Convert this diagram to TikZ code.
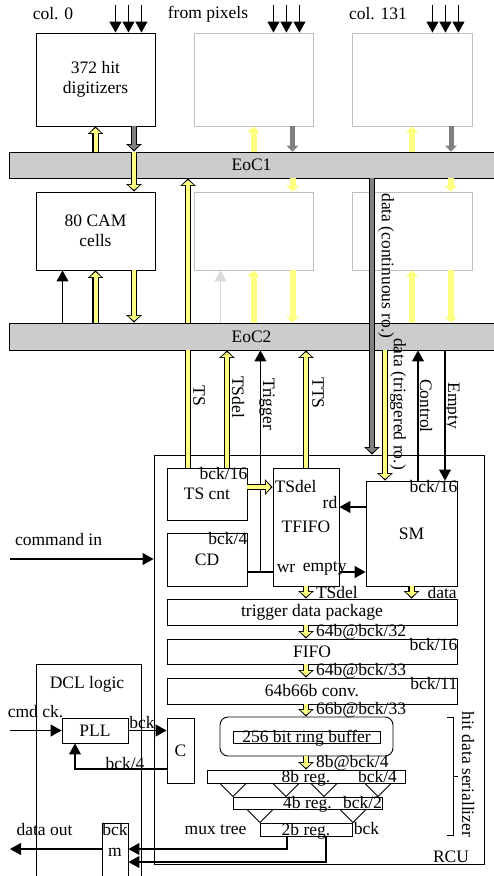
\documentclass[tikz,border=0pt]{standalone}
\usepackage{fontspec}
\setmainfont{Liberation Serif}
\usetikzlibrary{arrows.meta}
\definecolor{hitylw}{HTML}{FFFF80}
\definecolor{busgray}{HTML}{CCCCCC}
\definecolor{datagray}{HTML}{808080}
\definecolor{ghostline}{HTML}{C0C0C0}
\definecolor{ghostsig}{HTML}{D9D9D9}
\newcommand{\lblfont}{\fontsize{17.5}{20}\selectfont}
\tikzset{
  blk/.style={draw, line width=0.9pt, inner sep=0pt, align=center},
  ghost/.style={blk, draw=ghostline},
  bus/.style={draw, fill=busgray, line width=0.9pt, inner sep=0pt},
  reg/.style={blk, text height=11pt, text depth=0pt},
  lbl/.style={inner sep=0pt},
  vlbl/.style={inner sep=0pt, rotate=-90},
  clk/.style={inner sep=0pt, anchor=north east},
  tag/.style={inner sep=0pt, anchor=west},
  wire/.style={line width=1.1pt},
  sig/.style={line width=1.1pt, -{Triangle[length=11pt,width=12pt]}},
  ghostarr/.style={sig, draw=ghostsig},
  ybus/.style={draw=hitylw, line width=4pt, shorten >=1.7pt,
    -{Triangle[length=5pt,width=11.5pt,line width=0pt]},
    preaction={draw=black, line width=6.5pt, shorten >=0pt,
      -{Triangle[length=7.5pt,width=15.5pt,line width=0pt]}}},
  gbus/.style={ybus, draw=datagray},
  yline/.style={draw=hitylw, line width=4pt,
    preaction={draw=black, line width=6.5pt}},
  yfaint/.style={draw=hitylw, line width=6pt,
    -{Triangle[length=6pt,width=13pt,line width=0pt]}},
  gfaint/.style={draw=datagray, line width=5pt,
    -{Triangle[length=6pt,width=12pt,line width=0pt]}},
}

\begin{document}
\begin{tikzpicture}[x=1pt, y=-1pt, font=\lblfont]
  \useasboundingbox (0,0) rectangle (493,876);

  % pixel columns
  \node[lbl] (col0) at (53,14) {col. 0};
  \node[lbl] (frompix) at (208,14) {from pixels};
  \node[lbl] (col131) at (378,14) {col. 131};

  \node[blk, minimum width=119pt, minimum height=93pt] (dig) at (95.5,79.5) {372 hit\\digitizers};
  \node[ghost, minimum width=119pt, minimum height=93pt] (dig2) at (253.5,79.5) {};
  \node[ghost, minimum width=120pt, minimum height=93pt] (dig3) at (412,79.5) {};
  \node[blk, minimum width=119pt, minimum height=78pt] (cam) at (95.5,231) {80 CAM\\cells};
  \node[ghost, minimum width=119pt, minimum height=78pt] (cam2) at (253.5,231) {};
  \node[ghost, minimum width=120pt, minimum height=78pt] (cam3) at (412,231) {};

  \foreach \n in {dig,dig2,dig3}
    \foreach \d in {14,27,40}
      \draw[sig] ([xshift=-\d, yshift=28pt]\n.north east) -- ([xshift=-\d]\n.north east);

  % end of column buses
  \node[bus, minimum width=485pt, minimum height=26pt] (eoc1) at (251.5,165) {EoC1};
  \node[bus, minimum width=485pt, minimum height=27pt] (eoc2) at (251.5,336.5) {EoC2};

  \draw[ybus] (eoc1.north -| dig.south) -- (dig.south);
  \draw[gbus] ([xshift=38.5pt]dig.south) -- ([xshift=38.5pt]dig.south |- eoc1.north);
  \draw[ybus] ([xshift=38.5pt]dig.south |- eoc1.north) -- ([xshift=38.5pt]cam.north);
  \draw[sig] ([xshift=-33pt]cam.south |- eoc2.north) -- ([xshift=-33pt]cam.south);
  \draw[ybus] (eoc2.north -| cam.south) -- (cam.south);
  \draw[ybus] ([xshift=38.5pt]cam.south) -- ([xshift=38.5pt]cam.south |- eoc2.north);

  \foreach \n/\m in {dig2/cam2, dig3/cam3} {
    \draw[yfaint] (eoc1.north -| \n.south) -- (\n.south);
    \draw[gfaint] ([xshift=39pt]\n.south) -- ([xshift=39pt]\n.south |- eoc1.north);
    \draw[yfaint] ([xshift=39pt]\n.south |- eoc1.south) -- ([xshift=39pt]\m.north);
    \draw[yfaint] (eoc2.north -| \m.south) -- (\m.south);
    \draw[yfaint] ([xshift=39pt]\m.south) -- ([xshift=39pt]\m.south |- eoc2.north);
  }
  \draw[ghostarr] ([xshift=-33pt]cam2.south |- eoc2.north) -- ([xshift=-33pt]cam2.south);

  % readout control unit
  \node[blk, minimum width=330pt, minimum height=409pt] (rcu) at (319,659.5) {};
  \node[lbl] (rculbl) at (451,857) {RCU};

  \node[blk, minimum width=80pt, minimum height=52pt] (tscnt) at (207,494) {TS cnt};
  \node[clk] (tsclk) at (tscnt.north east) {bck/16};
  \node[blk, minimum width=80pt, minimum height=53pt] (cd) at (207,559.5) {CD};
  \node[clk] (cdclk) at (cd.north east) {bck/4};
  \node[blk, minimum width=66pt, minimum height=118pt] (tfifo) at (306,527) {TFIFO};
  \node[tag] (tftsdel) at ([xshift=2pt, yshift=-19pt]tfifo.north west) {TSdel};
  \node[inner sep=0pt, anchor=east] (tfrd) at ([xshift=-2pt, yshift=24pt]tfifo.east) {rd};
  \node[tag] (tfwr) at ([xshift=4pt, yshift=-41pt]tfifo.west) {wr};
  \node[tag] (tfempty) at ([xshift=30pt, yshift=-41pt]tfifo.west) {empty};
  \node[blk, minimum width=91pt, minimum height=105pt] (sm) at (411.5,533.5) {SM};
  \node[clk] (smclk) at (sm.north east) {bck/16};

  \draw[yline] ([xshift=-19pt]tscnt.north) -- ([xshift=-19pt]tscnt.north |- eoc2.south);
  \draw[ybus] ([xshift=-19pt]tscnt.north |- eoc2.north) -- ([xshift=-19pt]tscnt.north |- eoc1.south);
  \draw[ybus] ([xshift=20pt]tscnt.north) -- ([xshift=20pt]tscnt.north |- eoc2.south);
  \draw[ybus] (tfifo.north) -- (tfifo.north |- eoc2.south);
  \draw[gbus] ([xshift=53pt]rcu.north |- eoc1.south) -- ([xshift=53pt]rcu.north);
  \draw[ybus] ([xshift=-26.5pt]sm.north |- eoc2.south) -- ([xshift=-26.5pt]sm.north);
  \draw[sig] ([xshift=6.5pt]sm.north) -- ([xshift=6.5pt]sm.north |- eoc2.south);
  \draw[sig] ([xshift=33.5pt]sm.north |- eoc2.south) -- ([xshift=33.5pt]sm.north);

  \coordinate (trg) at ([yshift=-12.5pt]cd.east);
  \draw[wire] (trg) -- (trg -| tfifo.west);
  \draw[sig] ([xshift=13pt]trg) -- ([xshift=13pt]trg |- eoc2.south);

  \node[vlbl] (tslbl) at (199,396) {TS};
  \node[vlbl] (tsdellbl) at (238,397) {TSdel};
  \node[vlbl] (trglbl) at (267,404) {Trigger};
  \node[vlbl] (ttslbl) at (318,393) {TTS};
  \node[vlbl] (contlbl) at (386,266) {data (continuous ro.)};
  \node[vlbl] (trigrolbl) at (398,404) {data (triggered ro.)};
  \node[vlbl] (ctrllbl) at (426,406) {Control};
  \node[vlbl] (emptylbl) at (452,406) {Empty};

  \draw[ybus] ([yshift=7pt]tscnt.east) -- ([yshift=7pt]tscnt.east -| tfifo.west);
  \draw[sig] ([yshift=26.5pt]sm.west) -- ([yshift=26.5pt]sm.west -| tfifo.east);
  \draw[sig] ([yshift=-38.5pt]sm.west -| tfifo.east) -- ([yshift=-38.5pt]sm.west);

  \coordinate (cmdin) at (10,559);
  \draw[sig] (cmdin) -- (cmdin -| rcu.west);
  \node[lbl] (cmdinlbl) at (58.5,540) {command in};

  % hit data path
  \node[blk, minimum width=290pt, minimum height=26pt] (tdp) at (312,612) {trigger data package};
  \node[blk, minimum width=290pt, minimum height=25pt] (fifo) at (312,651.5) {FIFO};
  \node[clk] (fifoclk) at (fifo.north east) {bck/16};
  \node[blk, minimum width=290pt, minimum height=26pt] (conv) at (312,691) {64b66b conv.};
  \node[clk] (convclk) at (conv.north east) {bck/11};
  \node[blk, rounded corners=8pt, minimum width=173pt, minimum height=39pt] (ring) at (306.5,736.5) {};
  \node[reg, minimum width=147pt, minimum height=12pt] (ringbuf) at (306.5,737) {256 bit ring buffer};
  \node[reg, minimum width=198pt, minimum height=13pt] (r8) at (306,776.5) {8b reg.};
  \node[lbl] (r8clk) at (377.5,777) {bck/4};
  \node[reg, minimum width=149pt, minimum height=12pt] (r4) at (307.5,803) {4b reg.};
  \node[lbl] (r4clk) at (362.5,803) {bck/2};
  \node[reg, minimum width=92pt, minimum height=13pt] (r2) at (306,829.5) {2b reg.};
  \node[lbl] (r2clk) at (366.5,829) {bck};
  \node[lbl] (muxlbl) at (215.5,830) {mux tree};

  \draw[ybus] (tfifo.south) -- (tfifo.south |- tdp.north)
    node[tag, midway, xshift=8pt] (lbltsdel) {TSdel};
  \draw[ybus] (sm.south) -- (sm.south |- tdp.north)
    node[tag, midway, xshift=14pt] (lbldata) {data};
  \draw[ybus] (tfifo.south |- tdp.south) -- (tfifo.south |- fifo.north)
    node[tag, midway, xshift=8pt] (lblw32) {64b@bck/32};
  \draw[ybus] (tfifo.south |- fifo.south) -- (tfifo.south |- conv.north)
    node[tag, midway, xshift=8pt] (lblw33) {64b@bck/33};
  \draw[ybus] (tfifo.south |- conv.south) -- (tfifo.south |- ring.north)
    node[tag, midway, xshift=8pt] (lblx33) {66b@bck/33};
  \draw[ybus] (tfifo.south |- ring.south) -- (tfifo.south |- r8.north)
    node[tag, midway, xshift=8pt] (lblb4) {8b@bck/4};

  \foreach \x in {233,286,324,378}
    \draw[line width=0.9pt] (\x-13,0 |- r8.south) -- (\x,0 |- r4.north) -- (\x+13,0 |- r8.south);
  \foreach \x in {260,353}
    \draw[line width=0.9pt] (\x-13,0 |- r4.south) -- (\x,0 |- r2.north) -- (\x+13,0 |- r4.south);

  \draw[line width=0.9pt] (447,717) -- (453,717) -- (453,835) -- (447,835);
  \draw[line width=0.9pt] (453,776) -- (458,776);
  \node[vlbl] (hdslbl) at (468,774.5) {hit data seriallizer};

  % data clock logic
  \node[blk, minimum width=105pt, minimum height=216pt] (dcl) at (88.5,772) {};
  \node[lbl] (dcllbl) at (87,684) {DCL logic};
  \node[blk, minimum width=66pt, minimum height=25pt] (pll) at (95,730.5) {PLL};
  \node[blk, minimum width=27pt, minimum height=65pt] (cbox) at (180.5,750.5) {C};
  \node[blk, minimum width=26pt, minimum height=57pt] (mbox) at (115,851.5) {};
  \node[lbl] (mclk) at (115,830) {bck};
  \node[lbl] (mlbl) at (115,852) {m};

  \coordinate (cmdck) at (10,730.5);
  \draw[sig] (cmdck) -- (pll.west);
  \node[lbl] (cmdcklbl) at (35.5,712) {cmd ck.};
  \draw[sig] (pll.east) -- (pll.east -| cbox.west);
  \node[lbl] (bcklbl) at (142,723) {bck};
  \draw[sig] ([yshift=-18.5pt]cbox.west) -| ([xshift=-20pt]pll.south);
  \node[lbl] (fblbl) at (125,764) {bck/4};

  \draw[sig] ([xshift=-19pt]r2.south) |- ([yshift=2.5pt]mbox.east);
  \draw[sig] ([xshift=20pt]r2.south) |- ([yshift=-10.5pt]mbox.east);
  \coordinate (dout) at (10,849);
  \draw[sig] ([yshift=2.5pt]mbox.west) -- (dout);
  \node[lbl] (doutlbl) at (44.5,830) {data out};
\end{tikzpicture}
\end{document}
